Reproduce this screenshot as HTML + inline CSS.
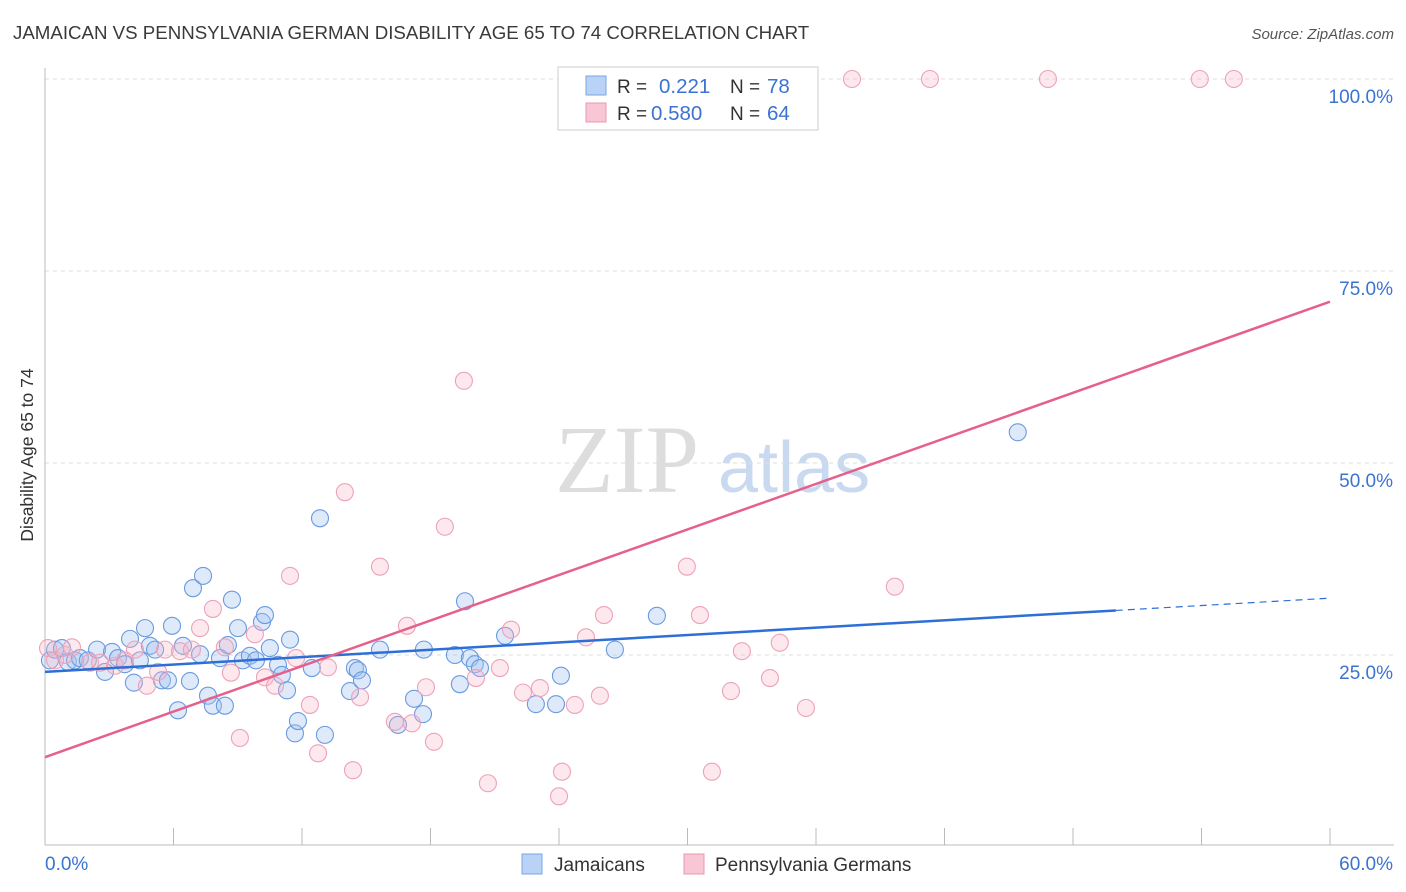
<!DOCTYPE html>
<html><head><meta charset="utf-8"><style>
body{margin:0;background:#fff;font-family:"Liberation Sans",sans-serif;}
svg{display:block}
</style></head><body>
<svg id="chart" width="1406" height="892">
<text x="13" y="39" font-size="18.7" fill="#3a3a3a">JAMAICAN VS PENNSYLVANIA GERMAN DISABILITY AGE 65 TO 74 CORRELATION CHART</text>
<text x="1394" y="39" font-size="15" fill="#555" font-style="italic" text-anchor="end">Source: ZipAtlas.com</text>
<text x="33" y="455" font-size="17.5" fill="#333" text-anchor="middle" transform="rotate(-90 33 455)">Disability Age 65 to 74</text>
<text x="555" y="492" font-size="96" fill="#ddd" font-family="Liberation Serif,serif">ZIP</text>
<text x="718" y="492" font-size="72" fill="#c8d9f0">atlas</text>
<g id="grid"></g><g id="pts"></g><g id="lines"></g>
<g>
<rect x="558" y="67" width="260" height="63" fill="#fff" stroke="#ccc"/>
<rect x="586" y="76" width="20" height="19" fill="#b8d3f5" stroke="#7aa6e0"/>
<rect x="586" y="103" width="20" height="19" fill="#f9c6d6" stroke="#ea97b1"/>
<text x="617" y="93" font-size="19" fill="#333">R = </text><text x="659" y="93" font-size="20.5" fill="#3b73d1">0.221</text>
<text x="730" y="93" font-size="19" fill="#333">N = </text><text x="767" y="93" font-size="20.5" fill="#3b73d1">78</text>
<text x="617" y="120" font-size="19" fill="#333">R = </text><text x="651" y="120" font-size="20.5" fill="#3b73d1">0.580</text>
<text x="730" y="120" font-size="19" fill="#333">N = </text><text x="767" y="120" font-size="20.5" fill="#3b73d1">64</text>
</g>
<g>
<rect x="522" y="854" width="20" height="20" fill="#b8d3f5" stroke="#7aa6e0"/>
<text x="554" y="871" font-size="19" fill="#333">Jamaicans</text>
<rect x="684" y="854" width="20" height="20" fill="#f9c6d6" stroke="#ea97b1"/>
<text x="715" y="871" font-size="19" fill="#333">Pennsylvania Germans</text>
</g>
</svg>
<script>
const blueX=[0.23,0.47,0.79,1.07,1.4,1.63,2.0,2.43,2.8,3.13,3.41,3.73,3.97,4.15,4.43,4.67,4.9,5.14,5.46,5.74,5.93,6.21,6.44,6.77,6.91,7.24,7.38,7.61,7.84,8.17,8.4,8.54,8.73,9.01,9.24,9.57,9.85,10.13,10.27,10.5,10.88,11.06,11.3,11.44,11.67,11.81,12.46,12.84,13.07,14.24,14.47,14.61,14.8,15.64,16.48,17.23,17.65,17.69,19.14,19.37,19.61,19.84,20.07,20.31,21.48,22.92,23.86,24.09,26.61,28.57,45.42];
const blueY=[24.3,25.7,25.9,24.1,24.3,24.6,24.3,25.7,22.8,25.4,24.6,23.8,27.1,21.4,24.3,28.5,26.2,25.7,21.7,21.7,28.8,17.8,26.2,21.6,33.7,25.1,35.3,19.7,18.4,24.6,18.4,26.3,32.2,28.5,24.3,24.9,24.3,29.3,30.2,25.9,23.7,22.4,20.4,27.0,14.8,16.4,23.3,42.8,14.6,20.3,23.3,23.0,21.7,25.7,15.9,19.3,17.3,25.7,25.0,21.2,32.0,24.6,23.8,23.3,27.5,18.6,18.6,22.3,25.7,30.1,54.0];
const pinkX=[0.14,0.47,0.93,1.26,2.1,2.57,3.27,3.73,4.2,4.76,5.28,5.6,6.3,6.86,7.24,7.84,8.4,8.68,9.1,9.8,10.27,10.74,11.44,11.72,12.37,12.75,13.21,14.0,14.38,14.71,15.64,16.34,16.9,17.13,17.79,18.16,18.67,19.56,20.12,20.68,21.24,21.76,22.32,23.11,24.14,24.0,24.74,25.26,25.91,26.1,29.97,30.58,31.14,32.03,32.54,33.85,34.31,35.53,37.68,39.68,41.32,46.83,53.92,55.51];
const pinkY=[25.9,24.3,25.0,26.0,24.0,24.0,23.6,24.3,25.7,21.0,22.8,25.7,25.5,25.7,28.5,31.0,26.0,22.7,14.2,27.7,22.1,21.0,35.3,24.6,18.5,12.2,23.4,46.2,10.0,19.5,36.5,16.3,28.8,16.1,20.8,13.7,41.7,60.7,22.0,8.3,23.3,28.3,20.1,20.7,9.8,6.6,18.5,27.3,19.7,30.2,36.5,30.2,9.8,20.3,25.5,22.0,26.6,18.1,100,33.9,100,100,100,100];
const blueTrend=[22.8,32.4];
const pinkTrend=[11.7,71.0];
const yTicks=[25,50,75,100];
const xLabels=["0.0%","60.0%"];
const NS="http://www.w3.org/2000/svg";
const X=v=>45+v/60*1285, Y=v=>847-v/100*768;
function mk(tag,at,parent){const e=document.createElementNS(NS,tag);for(const k in at)e.setAttribute(k,at[k]);document.getElementById(parent).appendChild(e);return e;}
yTicks.forEach(t=>{
 const l=mk('line',{x1:45,x2:1394,y1:Y(t),y2:Y(t),stroke:'#ddd','stroke-dasharray':'4 4'},'grid');
 
 
 const tx=mk('text',{x:1393,y:Y(t)+24,'font-size':19,fill:'#3b73d1','text-anchor':'end'},'grid');
 tx.textContent=t.toFixed(1)+'%';
 
 
});
mk('line',{x1:45,x2:45,y1:68,y2:845,stroke:'#bbb'},'grid');
mk('line',{x1:45,x2:1394,y1:845,y2:845,stroke:'#bbb'},'grid');
for(let i=0;i<=10;i++){const x=45+i*128.5;mk('line',{x1:x,x2:x,y1:828,y2:845,stroke:'#bbb'},'grid');}
xLabels.forEach((s,i)=>{const t=mk('text',{x:i?1393:45,y:870,'font-size':19,fill:'#3b73d1','text-anchor':i?'end':'start'},'grid');t.textContent=s;
 
 });
function dots(xs,ys,fill,stroke,name){xs.forEach((v,i)=>{const c=mk('circle',{cx:X(v),cy:Y(ys[i]),r:8.5,fill:fill,stroke:stroke,'stroke-width':1.1},'pts');
 
 });}
dots(blueX,blueY,'rgba(160,196,240,0.35)','#6a9ae0','jamaican-point');
dots(pinkX,pinkY,'rgba(248,180,200,0.3)','#eda2ba','pennsylvania-german-point');
const bAt=x=>blueTrend[0]+(blueTrend[1]-blueTrend[0])*x/60;
const pAt=x=>pinkTrend[0]+(pinkTrend[1]-pinkTrend[0])*x/60;
let l1=mk('line',{x1:X(0),y1:Y(bAt(0)),x2:X(50),y2:Y(bAt(50)),stroke:'#2d6fd6','stroke-width':2.5},'lines');


let l2=mk('line',{x1:X(50),y1:Y(bAt(50)),x2:X(60),y2:Y(bAt(60)),stroke:'#2d6fd6','stroke-width':1.2,'stroke-dasharray':'7 5'},'lines');


let l3=mk('line',{x1:X(0),y1:Y(pAt(0)),x2:X(60),y2:Y(pAt(60)),stroke:'#e5608a','stroke-width':2.5},'lines');


</script>
</body></html>
